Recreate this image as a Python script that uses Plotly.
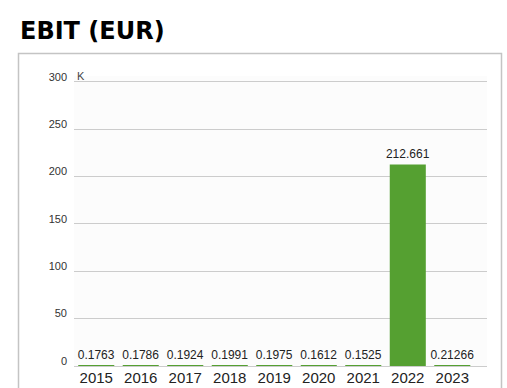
import plotly.graph_objects as go

# EBIT per year, in thousands of EUR
years = ["2015", "2016", "2017", "2018", "2019", "2020", "2021", "2022", "2023"]
ebit_k = [0.1763, 0.1786, 0.1924, 0.1991, 0.1975, 0.1612, 0.1525, 212.661, 0.21266]
y_ticks = [0, 50, 100, 150, 200, 250, 300]

W, H = 507, 388
PX_PER_UNIT = 284 / 300
Y_MAX = 306  # headroom so the 300 gridline is drawn inside the plot area
B = 22
L, R = 74, 20
T = round(H - B - Y_MAX * PX_PER_UNIT)
plot_w = W - L - R
plot_h = H - T - B


def px_x(px):
    return (px - L) / plot_w


def px_y(py):
    return (H - B - py) / plot_h


fig = go.Figure(
    go.Bar(
        x=years,
        y=ebit_k,
        text=[str(v) for v in ebit_k],
        textposition="outside",
        constraintext="none",
        textfont=dict(family="Liberation Sans, Arial, sans-serif", size=12, color="#222222"),
        cliponaxis=False,
        marker=dict(color="#55a031", line=dict(width=0)),
        width=0.81,
        hoverinfo="skip",
    )
)

fig.update_layout(
    width=W,
    height=H,
    margin=dict(l=L, r=R, t=T, b=B, autoexpand=False),
    paper_bgcolor="#ffffff",
    plot_bgcolor="#fcfcfc",
    showlegend=False,
    font=dict(family="Liberation Sans, Arial, sans-serif"),
    uniformtext=dict(mode=False),
    shapes=[
        # outer panel frame
        dict(
            type="rect", xref="paper", yref="paper",
            x0=px_x(18.5), x1=px_x(501.5), y0=px_y(400), y1=px_y(53.5),
            line=dict(color="#c4c4c4", width=1.5), fillcolor="rgba(0,0,0,0)",
            layer="below",
        )
    ],
    annotations=[
        dict(
            text="<b>EBIT (EUR)</b>", xref="paper", yref="paper",
            x=px_x(18), y=px_y(31), xanchor="left", yanchor="middle",
            showarrow=False,
            font=dict(family="DejaVu Sans, Verdana, sans-serif", size=24, color="#000000"),
        ),
        dict(
            text="K", xref="paper", yref="y",
            x=0, y=300, xanchor="left", yanchor="bottom", xshift=1, yshift=-2,
            showarrow=False,
            font=dict(size=11, color="#444444"),
        ),
    ],
)

fig.update_xaxes(
    type="category",
    range=[-0.5, 8.78],
    automargin=False,
    showgrid=False,
    showline=False,
    ticks="",
    ticklabelstandoff=1,
    tickfont=dict(size=15, color="#222222"),
)

fig.update_yaxes(
    range=[0, Y_MAX],
    automargin=False,
    tickvals=y_ticks,
    showgrid=True,
    gridcolor="#cccccc",
    gridwidth=1,
    zeroline=True,
    zerolinecolor="#cccccc",
    zerolinewidth=1,
    showline=False,
    ticks="",
    ticklabelstandoff=6,
    ticklabelshift=-5,
    tickfont=dict(size=11, color="#333333"),
)

fig.write_html("out.html")
